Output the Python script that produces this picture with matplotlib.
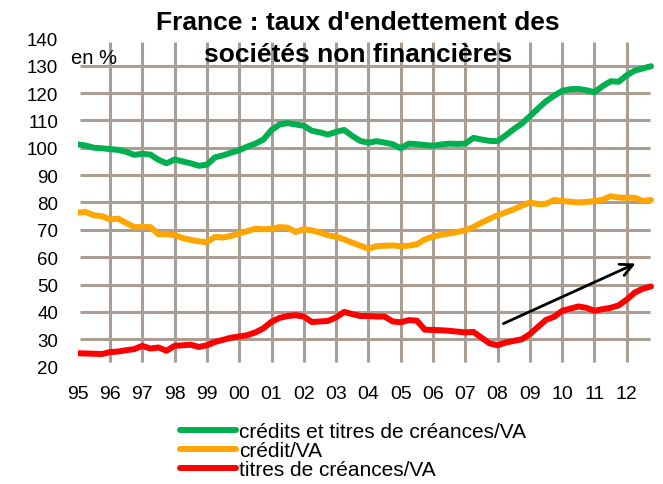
import numpy as np
import matplotlib.pyplot as plt

plt.rcParams['font.family'] = ['Liberation Sans', 'DejaVu Sans']

# quarterly values, 1995Q1 .. 2012Q4
total = [101.2, 100.8, 100.0, 99.8, 99.5, 99.2, 98.5, 97.4,
         97.8, 97.5, 95.6, 94.3, 95.7, 95.0, 94.3, 93.4,
         93.8, 96.5, 97.2, 98.2, 99.1, 100.4, 101.5, 103.0,
         106.5, 108.5, 109.0, 108.5, 108.0, 106.2, 105.6, 104.8,
         105.8, 106.5, 104.3, 102.5, 101.8, 102.4, 101.9, 101.3,
         99.8, 101.5, 101.3, 101.0, 100.7, 101.2, 101.5, 101.4,
         101.5, 103.6, 103.0, 102.5, 102.4, 104.5, 106.8, 108.8,
         111.5, 114.3, 117.0, 119.0, 120.8, 121.4, 121.5, 121.0,
         120.3, 122.5, 124.3, 124.1, 126.5, 128.2, 129.0, 129.8]
credit = [76.3, 76.5, 75.3, 75.0, 73.8, 74.1, 72.5, 71.0,
          71.0, 71.0, 68.4, 68.4, 68.1, 67.0, 66.3, 65.8,
          65.5, 67.4, 67.2, 67.8, 68.7, 69.5, 70.4, 70.2,
          70.3, 71.0, 70.8, 69.2, 70.2, 69.8, 69.0, 68.0,
          67.5, 66.5, 65.3, 64.2, 63.1, 64.0, 64.2, 64.3,
          64.0, 64.2, 64.7, 66.5, 67.5, 68.2, 68.7, 69.2,
          69.8, 71.0, 72.6, 74.0, 75.3, 76.4, 77.5, 78.8,
          80.0, 79.4, 79.5, 80.9, 80.5, 80.3, 80.0, 80.2,
          80.5, 81.0, 82.3, 81.8, 81.7, 81.7, 80.5, 80.9]
titres = [24.9, 24.8, 24.7, 24.6, 25.3, 25.5, 26.0, 26.4,
          27.6, 26.6, 27.0, 25.8, 27.6, 27.8, 28.0, 27.2,
          27.8, 29.0, 29.8, 30.6, 31.0, 31.5, 32.5, 34.0,
          36.4, 37.8, 38.5, 38.8, 38.3, 36.3, 36.5, 36.7,
          38.0, 40.0, 39.2, 38.5, 38.5, 38.3, 38.3, 36.5,
          36.2, 37.0, 36.8, 33.5, 33.4, 33.3, 33.1, 32.8,
          32.5, 32.7, 30.6, 28.5, 27.8, 28.8, 29.4, 30.0,
          31.9, 34.5, 37.1, 38.2, 40.4, 41.2, 42.0, 41.5,
          40.4, 41.0, 41.5, 42.4, 44.5, 47.1, 48.5, 49.3]

years = list(range(1995, 2013))
year_labels = ["%02d" % (y % 100) for y in years]
t = 1995 + np.arange(len(total)) / 4.0

grid_col = "#aa9e92"

fig = plt.figure(figsize=(6.63, 4.85), dpi=100)
ax = fig.add_axes([0.1172, 0.242, 0.8696, 0.677])

# grid
ax.hlines(range(30, 140, 10), 1995.07, 2012.72, color=grid_col, lw=2.2, zorder=1)
ax.vlines(years[1:], 21.6, 138.6, color=grid_col, lw=2.2, zorder=1)

ax.plot(t, total, color="#00b050", lw=4.3, label="crédits et titres de créances/VA",
        solid_capstyle="round", zorder=3)
ax.plot(t, credit, color="#ffa500", lw=4.3, label="crédit/VA",
        solid_capstyle="round", zorder=3)
ax.plot(t, titres, color="#ff0000", lw=4.3, label="titres de créances/VA",
        solid_capstyle="round", zorder=3)

ax.annotate("", xy=(2012.35, 58.1), xytext=(2008.1, 35.3),
            arrowprops=dict(arrowstyle="->", color="black", lw=2, mutation_scale=22),
            zorder=4)

ax.set_xlim(1995, 2012.85)
ax.set_ylim(20, 140)
ax.set_yticks(range(20, 141, 10))
ax.set_xticks(years)
ax.set_xticklabels(year_labels)
ax.tick_params(axis="y", length=0, pad=14, labelsize=13.5)
ax.tick_params(axis="x", length=0, pad=13, labelsize=14)
for s in ax.spines.values():
    s.set_visible(False)

fig.text(0.54, 1 - 23 / 485, "France : taux d'endettement des",
         ha="center", va="center", fontsize=19, fontweight="bold")
fig.text(0.54, 1 - 55 / 485, "sociétés non financières",
         ha="center", va="center", fontsize=19, fontweight="bold")
fig.text(71 / 663, 1 - 59 / 485, "en %", ha="left", va="center", fontsize=14.5)

fig.legend(loc="upper left", bbox_to_anchor=(0.272, 0.128), frameon=False,
           fontsize=15, handlelength=2.65, handletextpad=0.15, labelspacing=0.0,
           borderpad=0, borderaxespad=0)

fig.savefig("out.png", dpi=100)
